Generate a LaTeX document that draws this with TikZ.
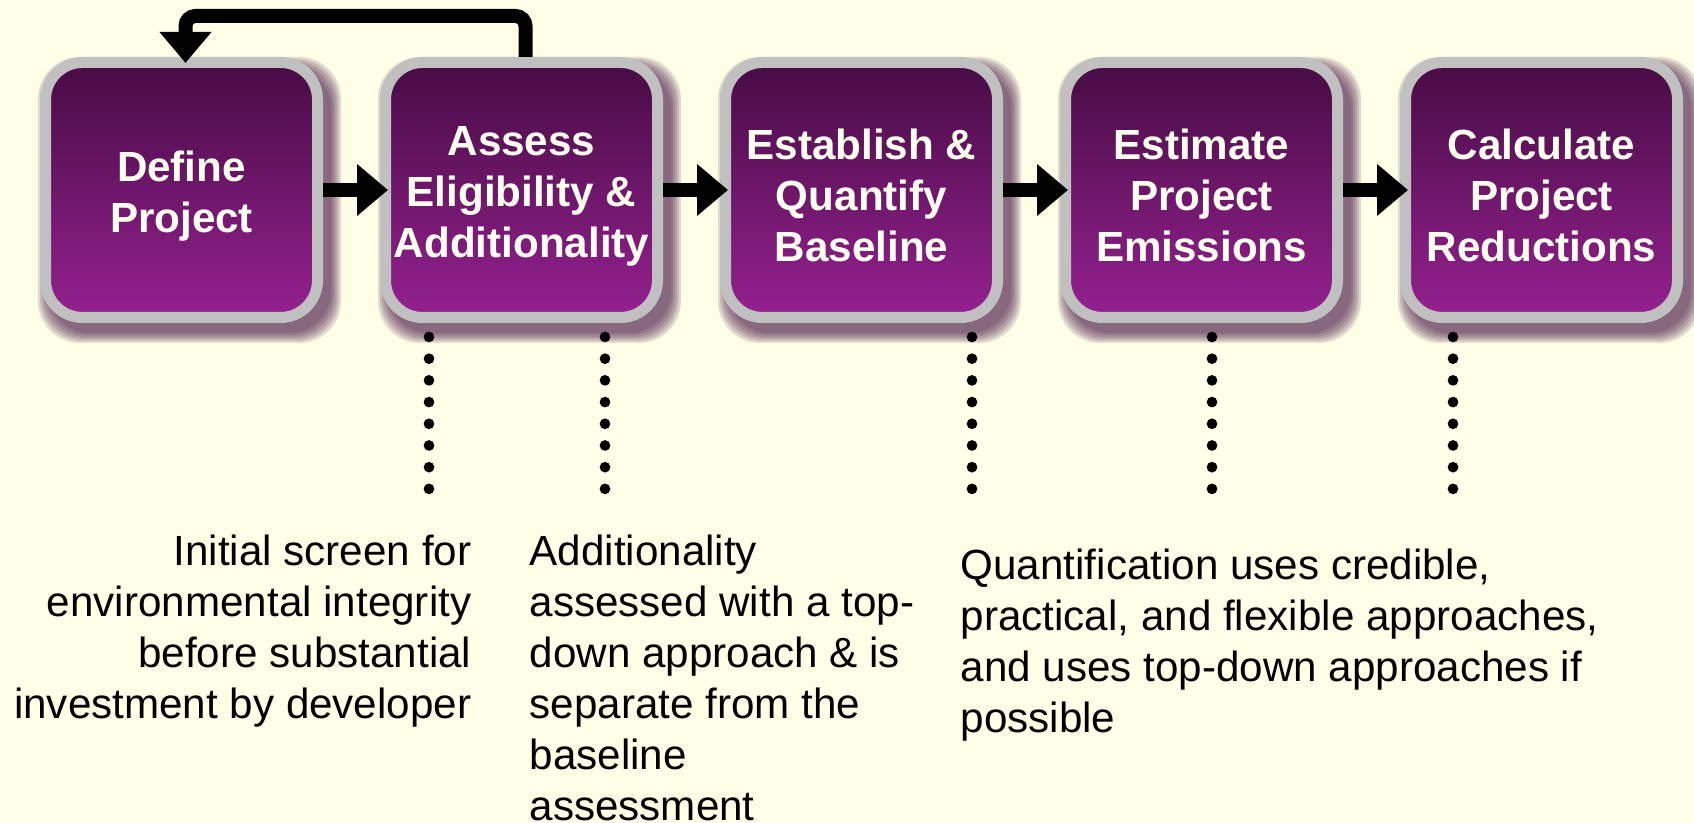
\documentclass[tikz,border=0pt]{standalone}
\usepackage{fontspec}
\setmainfont{Liberation Sans}
\usetikzlibrary{positioning, arrows.meta, backgrounds}
\definecolor{paper}{HTML}{FFFFE8}
\definecolor{boxtop}{HTML}{470C44}
\definecolor{boxbot}{HTML}{952190}
\definecolor{boxrim}{HTML}{C0C0C0}
\definecolor{boxtext}{HTML}{FFFFEE}
\definecolor{boxshade}{HTML}{4B1A48}

\begin{document}
\begin{tikzpicture}[
	stepbox/.style = {rectangle, rounded corners = 0.37cm, draw = boxrim, line width = 0.11cm, top color = boxtop, bottom color = boxbot, minimum width = 2.72cm, minimum height = 2.55cm, inner sep = 1pt, align = center, text = boxtext, font = \bfseries\fontsize{12}{14.5}\selectfont},
	flow/.style = {line width = 0.14cm, -{Triangle[width = 0.5cm, length = 0.31cm]}},
	dotline/.style = {line width = 0.107cm, line cap = round, dash pattern = on 0pt off 0.217cm},
	note/.style = {inner sep = 0pt, font = \fontsize{12}{14.5}\selectfont}]
	\useasboundingbox (0,0) rectangle (16.94,8.23);
	\node [stepbox] (define) at (1.815,6.33) {\rule{0pt}{0.42cm}Define\\Project};
	\node [stepbox, right = 0.57cm of define] (assess) {\rule{0pt}{0.42cm}Assess\\Eligibility \&\\Additionality};
	\node [stepbox, right = 0.57cm of assess] (baseline) {\rule{0pt}{0.42cm}Establish \&\\Quantify\\Baseline};
	\node [stepbox, right = 0.57cm of baseline] (emissions) {\rule{0pt}{0.42cm}Estimate\\Project\\Emissions};
	\node [stepbox, right = 0.57cm of emissions] (reductions) {\rule{0pt}{0.42cm}Calculate\\Project\\Reductions};
	\begin{pgfonlayer}{background}
		\fill [paper] (0,0) rectangle (16.94,8.23);
		\foreach \b in {define, assess, baseline, emissions, reductions}
			\foreach \e in {0,0.02,0.04,0.06,0.08,0.1}
				\fill [boxshade, opacity = 0.16, rounded corners = 0.42cm] ([shift = {(0.08cm-\e cm,-0.1cm-\e cm)}]\b.south west) rectangle ([shift = {(0.08cm+\e cm,-0.1cm+\e cm)}]\b.north east);
	\end{pgfonlayer}
	\foreach \a/\b in {define/assess, assess/baseline, baseline/emissions, emissions/reductions}
		\draw [flow, shorten > = -0.08cm] (\a) -- (\b);
	\draw [flow, rounded corners = 0.1cm, shorten > = -0.06cm] ([xshift = 0.04cm]assess.north) -- ++(0,0.41) -| ([xshift = 0.04cm]define.north);
	\draw [dotline] ([xshift = -0.925cm, yshift = -0.14cm]assess.south) -- ++(0,-1.53);
	\draw [dotline] ([xshift = 0.835cm, yshift = -0.14cm]assess.south) -- ++(0,-1.53);
	\draw [dotline] ([xshift = 1.105cm, yshift = -0.14cm]baseline.south) -- ++(0,-1.53);
	\draw [dotline] ([xshift = 0.105cm, yshift = -0.14cm]emissions.south) -- ++(0,-1.53);
	\draw [dotline] ([xshift = -0.885cm, yshift = -0.14cm]reductions.south) -- ++(0,-1.53);
	\node [note, align = right, anchor = north east] (screen) at (4.72,2.89) {Initial screen for\\environmental integrity\\before substantial\\investment by developer};
	\node [note, align = left, anchor = north west] (addnote) at (5.29,2.89) {Additionality\\assessed with a top-\\down approach \& is\\separate from the\\baseline\\assessment};
	\node [note, align = left, anchor = north west] (quantnote) at (9.60,2.75) {Quantification uses credible,\\practical, and flexible approaches,\\and uses top-down approaches if\\possible};
\end{tikzpicture}
\end{document}
